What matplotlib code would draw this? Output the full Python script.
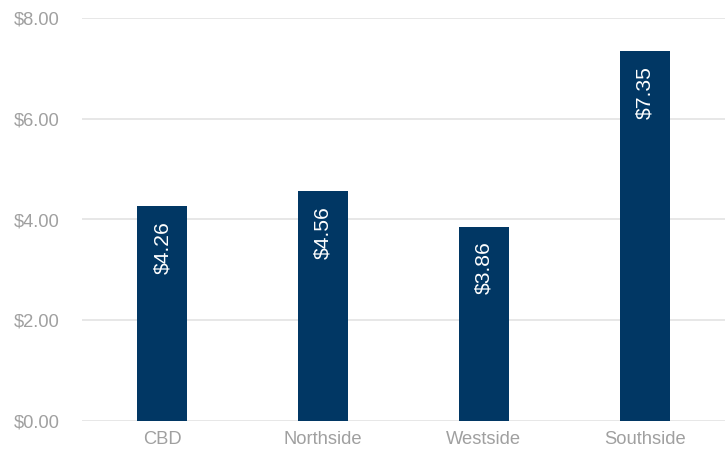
import matplotlib
matplotlib.use("Agg")
import matplotlib.pyplot as plt

categories = ["CBD", "Northside", "Westside", "Southside"]
values = [4.26, 4.56, 3.86, 7.35]
yticks = [0, 2, 4, 6, 8]

plt.rcParams['font.family'] = ['Liberation Sans', 'DejaVu Sans']

fig = plt.figure(figsize=(7.28, 4.61), dpi=100)
ax = fig.add_axes([82/728, 1-421/461, (725-82)/728, (421-18)/461])

x = range(len(categories))
bars = ax.bar(x, values, width=0.31, color="#013764", zorder=3)

for xi, v in zip(x, values):
    ax.annotate(f"${v:.2f}", xy=(xi, v), xytext=(0, -15), textcoords="offset pixels",
                rotation=90, ha="center", va="top", color="white", fontsize=15.2, zorder=4)

ax.set_ylim(0, 8)
ax.set_xlim(-0.5, 3.5)
ax.set_yticks(yticks)
ax.set_yticklabels([f"${t:.2f}" for t in yticks])
ax.set_xticks(list(x))
ax.set_xticklabels(categories)
ax.grid(axis="y", color="#e3e3e3", linewidth=1.2, zorder=0)
for s in ax.spines.values():
    s.set_visible(False)
ax.tick_params(axis="both", length=0, labelcolor="#a0a0a0", labelsize=13.2)
ax.tick_params(axis="y", pad=16)
ax.tick_params(axis="x", pad=7)

fig.savefig("out.png", dpi=100)
